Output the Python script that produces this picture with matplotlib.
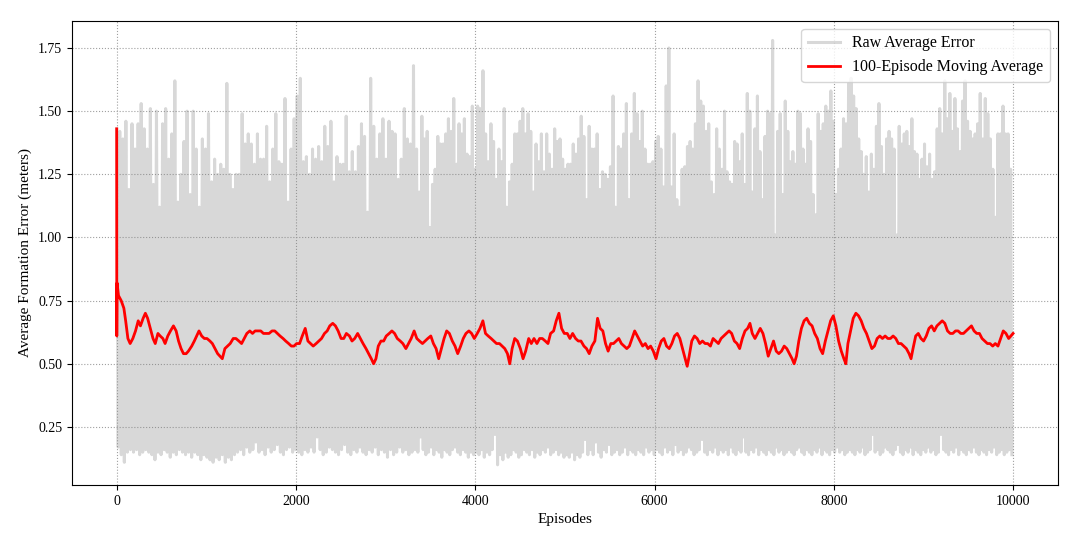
import numpy as np
import matplotlib
matplotlib.use('Agg')
import matplotlib.pyplot as plt

plt.rcParams['font.family'] = ['Liberation Serif', 'DejaVu Serif']

# raw error: spike tops and troughs, in three stretches
seg_bounds = [(0, 3345), (3345, 6752), (6752, 10000)]

raw_highs_1 = [
    1.43, 1.42, 1.39, 1.46, 1.19, 1.45, 1.35, 1.45, 1.53, 1.43,
    1.35, 1.51, 1.21, 1.50, 1.12, 1.45, 1.51, 1.31, 1.41, 1.62,
    1.14, 1.25, 1.38, 1.50, 1.17, 1.50, 1.35, 1.12, 1.39, 1.35,
    1.49, 1.22, 1.31, 1.25, 1.29, 1.27, 1.61, 1.25, 1.19, 1.25,
    1.25, 1.49, 1.37, 1.41, 1.37, 1.29, 1.41, 1.31, 1.31, 1.44,
    1.22, 1.35, 1.49, 1.30, 1.29, 1.55, 1.14, 1.35, 1.47, 1.56,
    1.63, 1.30, 1.32, 1.25, 1.35, 1.31, 1.36, 1.30, 1.44, 1.36,
    1.46, 1.22, 1.32, 1.29, 1.29, 1.48, 1.26, 1.34, 1.26, 1.36,
    1.45, 1.40, 1.10, 1.63, 1.44, 1.31, 1.41, 1.47, 1.31, 1.46,
    1.42, 1.41, 1.23, 1.31, 1.51, 1.39, 1.37, 1.68]
raw_lows_1 = [
    0.17, 0.14, 0.11, 0.15, 0.16, 0.15, 0.16, 0.14, 0.15, 0.16, 0.15, 0.14,
    0.12, 0.15, 0.14, 0.16, 0.15, 0.13, 0.15, 0.14, 0.16, 0.15, 0.14, 0.15,
    0.13, 0.15, 0.14, 0.12, 0.14, 0.13,
    0.12, 0.11, 0.13, 0.12, 0.14, 0.11, 0.13, 0.12, 0.14,
    0.15, 0.16, 0.14, 0.17, 0.15, 0.16, 0.19, 0.15, 0.16, 0.14, 0.17, 0.15,
    0.16, 0.18, 0.15, 0.14, 0.16, 0.17, 0.15, 0.16,
    0.15, 0.14, 0.16, 0.15, 0.17, 0.15, 0.21, 0.16, 0.14, 0.15, 0.17, 0.16,
    0.15, 0.14, 0.16, 0.18, 0.15, 0.14, 0.16, 0.15, 0.17, 0.15, 0.14, 0.16,
    0.15, 0.17, 0.14, 0.16, 0.15, 0.13, 0.16, 0.14, 0.15, 0.17, 0.15, 0.16,
    0.14, 0.15, 0.16]

raw_highs_2 = [
    1.35, 1.18, 1.48, 1.39, 1.42, 1.04, 1.21, 1.27, 1.40, 1.37,
    1.37, 1.41, 1.47, 1.42, 1.55, 1.29, 1.45, 1.41, 1.47, 1.33,
    1.32, 1.52, 1.27, 1.52, 1.51, 1.66, 1.41, 1.30, 1.45, 1.38,
    1.23, 1.35, 1.30, 1.51, 1.12, 1.22, 1.29, 1.41, 1.41, 1.46,
    1.51, 1.41, 1.49, 1.42, 1.18, 1.37, 1.30, 1.41, 1.26, 1.41,
    1.33, 1.27, 1.43, 1.38, 1.39, 1.31, 1.27, 1.29, 1.29, 1.37,
    1.33, 1.39, 1.48, 1.40, 1.15, 1.44, 1.35, 1.35, 1.41, 1.19,
    1.26, 1.25, 1.23, 1.28, 1.56, 1.12, 1.36, 1.35, 1.41, 1.53,
    1.15, 1.41, 1.57, 1.49, 1.38, 1.50, 1.35, 1.29, 1.29, 1.30,
    1.38, 1.40, 1.35, 1.20, 1.60, 1.75, 1.20, 1.41, 1.15, 1.12,
    1.27, 1.28, 1.36, 1.38, 1.35, 1.45, 1.62, 1.54, 1.52, 1.42,
    1.45, 1.22, 1.17, 1.43, 1.35]
raw_lows_2 = [
    0.15, 0.21, 0.16, 0.14, 0.15, 0.17, 0.14, 0.16, 0.15, 0.13, 0.16,
    0.15, 0.14, 0.16, 0.17, 0.15, 0.14, 0.16, 0.15, 0.13, 0.15, 0.14,
    0.15, 0.14, 0.16, 0.13, 0.15, 0.14, 0.16, 0.22, 0.10, 0.14, 0.12,
    0.15, 0.13, 0.14, 0.16, 0.15, 0.13, 0.14, 0.16, 0.15, 0.14, 0.16,
    0.13, 0.15, 0.14, 0.16, 0.15, 0.17, 0.14, 0.15, 0.16, 0.14, 0.15, 0.13,
    0.14, 0.13, 0.15, 0.12, 0.14, 0.13, 0.15, 0.20, 0.14, 0.16, 0.14,
    0.19, 0.15, 0.13, 0.16, 0.15, 0.18, 0.14, 0.15, 0.16, 0.14, 0.15,
    0.17, 0.14, 0.16, 0.15, 0.14, 0.16, 0.15, 0.14, 0.17, 0.15, 0.16, 0.14,
    0.16, 0.15, 0.14, 0.17, 0.15, 0.16, 0.14, 0.18, 0.15, 0.16, 0.14,
    0.15, 0.17, 0.16, 0.14, 0.15, 0.16, 0.20, 0.15, 0.14, 0.16, 0.15,
    0.17, 0.14, 0.16]

raw_highs_3 = [
    1.27, 1.50, 1.26, 1.22, 1.21, 1.38, 1.37, 1.30, 1.41, 1.21,
    1.57, 1.50, 1.18, 1.43, 1.56, 1.34, 1.15, 1.40, 1.50, 1.49,
    1.78, 1.01, 1.42, 1.49, 1.17, 1.54, 1.42, 1.30, 1.34, 1.29,
    1.50, 1.49, 1.35, 1.29, 1.43, 1.38, 1.17, 1.09, 1.49, 1.42,
    1.45, 1.52, 1.50, 1.58, 1.46, 1.17, 1.27, 1.35, 1.47, 1.45,
    1.61, 1.63, 1.56, 1.51, 1.39, 1.34, 1.25, 1.32, 1.18, 1.33,
    1.27, 1.44, 1.53, 1.36, 1.25, 1.39, 1.42, 1.39, 1.35, 1.01,
    1.44, 1.37, 1.41, 1.42, 1.36, 1.47, 1.34, 1.33, 1.23, 1.31,
    1.37, 1.28, 1.33, 1.23, 1.26, 1.43, 1.51, 1.41, 1.62, 1.47,
    1.57, 1.42, 1.55, 1.43, 1.34, 1.54, 1.62, 1.46, 1.42, 1.39,
    1.41, 1.45, 1.57, 1.39, 1.55, 1.49, 1.39, 1.27, 1.08, 1.41,
    1.41, 1.52, 1.41, 1.41, 1.27]
raw_lows_3 = [
    0.15, 0.16, 0.14, 0.17, 0.15, 0.14, 0.16, 0.15, 0.21, 0.15,
    0.14, 0.16, 0.15, 0.17, 0.14, 0.16, 0.15, 0.14, 0.16, 0.15,
    0.14, 0.17, 0.15, 0.16, 0.14, 0.15, 0.16, 0.15, 0.14, 0.16,
    0.17, 0.15, 0.14, 0.16, 0.15, 0.14, 0.16, 0.15, 0.17, 0.14,
    0.16, 0.15, 0.14, 0.16, 0.15,
    0.17, 0.15, 0.16, 0.14, 0.15, 0.16, 0.15, 0.14, 0.16, 0.15,
    0.17, 0.14, 0.15, 0.16, 0.22, 0.15, 0.16, 0.14, 0.15, 0.17,
    0.16, 0.15, 0.14, 0.16, 0.18, 0.15, 0.14, 0.16, 0.15, 0.17,
    0.14, 0.16, 0.15, 0.14, 0.16, 0.15, 0.17, 0.15, 0.16, 0.14,
    0.15, 0.22, 0.16, 0.15, 0.14, 0.16, 0.15, 0.17, 0.14, 0.16,
    0.15, 0.14, 0.16, 0.15, 0.17, 0.15, 0.14, 0.16, 0.15, 0.14,
    0.16, 0.15, 0.17, 0.14, 0.15, 0.16, 0.14, 0.15, 0.16, 0.14]

# 100-episode moving average
ma_episodes = [
    0, 1, 4, 20, 50, 80, 100, 125, 150, 180,
    210, 240, 265, 295, 320, 345, 375, 405, 430, 460,
    485, 515, 540, 570, 600, 633, 663, 690, 718, 745,
    775, 800, 837, 866, 892, 918, 948, 978, 1007, 1040,
    1067, 1096, 1126, 1152, 1178, 1207, 1237, 1266, 1300, 1330,
    1363, 1393, 1422, 1452, 1485, 1515, 1544, 1578, 1607, 1637,
    1670, 1700, 1733, 1763, 1793, 1822, 1856, 1885, 1918, 1948,
    1978, 2007, 2040, 2070, 2103, 2133, 2162, 2192, 2225, 2255,
    2285, 2318, 2348, 2377, 2410, 2440, 2470, 2503, 2533, 2562,
    2596, 2625, 2655, 2688, 2718, 2748, 2781, 2811, 2840, 2866,
    2892, 2918, 2948, 2978, 3007, 3040, 3070, 3100, 3130, 3163,
    3192, 3226, 3255, 3285, 3318, 3348, 3378, 3411, 3441, 3470,
    3504, 3533, 3563, 3592, 3622, 3652, 3681, 3711, 3744, 3774,
    3804, 3837, 3866, 3896, 3929, 3959, 3989, 4022, 4052, 4085,
    4114, 4144, 4177, 4207, 4237, 4270, 4300, 4329, 4359, 4385,
    4411, 4440, 4470, 4503, 4533, 4562, 4596, 4625, 4655, 4688,
    4718, 4748, 4781, 4811, 4840, 4874, 4903, 4933, 4963, 4993,
    5026, 5056, 5086, 5119, 5149, 5179, 5212, 5241, 5271, 5301,
    5334, 5364, 5393, 5423, 5453, 5482, 5512, 5542, 5571, 5601,
    5630, 5660, 5690, 5719, 5749, 5778, 5808, 5838, 5867, 5897,
    5927, 5956, 5986, 6016, 6045, 6075, 6104, 6134, 6164, 6193,
    6223, 6253, 6282, 6312, 6342, 6364, 6386, 6415, 6445, 6475,
    6504, 6534, 6564, 6593, 6623, 6653, 6682, 6712, 6742, 6771,
    6801, 6831, 6860, 6890, 6920, 6949, 6979, 7009, 7038, 7064,
    7090, 7120, 7149, 7179, 7209, 7238, 7268, 7297, 7327, 7357,
    7386, 7416, 7446, 7475, 7505, 7534, 7557, 7583, 7609, 7638,
    7668, 7697, 7727, 7757, 7786, 7816, 7846, 7875, 7905, 7935,
    7964, 7994, 8023, 8053, 8083, 8112, 8134, 8157, 8186, 8216,
    8246, 8275, 8305, 8335, 8364, 8394, 8424, 8453, 8483, 8513,
    8542, 8572, 8602, 8631, 8661, 8691, 8720, 8750, 8780, 8809,
    8839, 8861, 8883, 8913, 8942, 8972, 9001, 9031, 9061, 9090,
    9120, 9150, 9179, 9209, 9238, 9268, 9298, 9327, 9357, 9386,
    9416, 9446, 9475, 9505, 9535, 9564, 9594, 9624, 9653, 9683,
    9713, 9742, 9772, 9801, 9831, 9861, 9890, 9920, 9950, 9999]
ma_values = [
    1.43, 0.61, 0.82, 0.77, 0.75, 0.72, 0.67, 0.60, 0.58, 0.60,
    0.63, 0.67, 0.65, 0.68, 0.70, 0.68, 0.64, 0.60, 0.58, 0.62,
    0.61, 0.60, 0.58, 0.61, 0.63, 0.65, 0.63, 0.59, 0.56, 0.54,
    0.54, 0.55, 0.57, 0.59, 0.61, 0.63, 0.61, 0.60, 0.60, 0.59,
    0.58, 0.56, 0.54, 0.53, 0.52, 0.56, 0.57, 0.58, 0.60, 0.60,
    0.59, 0.58, 0.60, 0.62, 0.63, 0.62, 0.63, 0.63, 0.63, 0.62,
    0.62, 0.62, 0.63, 0.63, 0.62, 0.61, 0.60, 0.59, 0.58, 0.57,
    0.57, 0.58, 0.58, 0.61, 0.64, 0.59, 0.58, 0.57, 0.58, 0.59,
    0.60, 0.62, 0.63, 0.65, 0.66, 0.65, 0.63, 0.60, 0.60, 0.62,
    0.61, 0.59, 0.60, 0.62, 0.60, 0.58, 0.56, 0.54, 0.52, 0.50,
    0.52, 0.57, 0.59, 0.59, 0.61, 0.62, 0.63, 0.62, 0.60, 0.59,
    0.58, 0.56, 0.58, 0.60, 0.63, 0.60, 0.59, 0.58, 0.59, 0.60,
    0.61, 0.58, 0.56, 0.52, 0.56, 0.60, 0.63, 0.62, 0.59, 0.57,
    0.54, 0.57, 0.60, 0.62, 0.63, 0.62, 0.60, 0.62, 0.64, 0.67,
    0.62, 0.61, 0.60, 0.59, 0.58, 0.58, 0.57, 0.56, 0.54, 0.50,
    0.56, 0.60, 0.59, 0.56, 0.52, 0.55, 0.60, 0.58, 0.60, 0.58,
    0.60, 0.60, 0.59, 0.58, 0.62, 0.63, 0.67, 0.70, 0.64, 0.62,
    0.62, 0.60, 0.62, 0.60, 0.59, 0.59, 0.57, 0.56, 0.54, 0.57,
    0.59, 0.68, 0.64, 0.63, 0.58, 0.55, 0.58, 0.58, 0.59, 0.60,
    0.58, 0.57, 0.56, 0.57, 0.60, 0.63, 0.61, 0.59, 0.57, 0.58,
    0.56, 0.57, 0.55, 0.52, 0.56, 0.59, 0.60, 0.57, 0.56, 0.58,
    0.61, 0.62, 0.60, 0.56, 0.52, 0.49, 0.53, 0.59, 0.61, 0.60,
    0.58, 0.59, 0.58, 0.58, 0.57, 0.60, 0.59, 0.58, 0.60, 0.61,
    0.62, 0.63, 0.62, 0.59, 0.58, 0.56, 0.60, 0.63, 0.64, 0.66,
    0.62, 0.60, 0.62, 0.64, 0.62, 0.58, 0.53, 0.56, 0.59, 0.55,
    0.54, 0.55, 0.57, 0.56, 0.54, 0.52, 0.50, 0.53, 0.59, 0.64,
    0.67, 0.68, 0.66, 0.65, 0.62, 0.60, 0.56, 0.54, 0.59, 0.63,
    0.67, 0.69, 0.65, 0.59, 0.55, 0.52, 0.50, 0.58, 0.63, 0.68,
    0.70, 0.69, 0.67, 0.64, 0.62, 0.59, 0.56, 0.57, 0.60, 0.61,
    0.60, 0.61, 0.60, 0.60, 0.61, 0.60, 0.58, 0.58, 0.57, 0.56,
    0.54, 0.52, 0.56, 0.61, 0.62, 0.60, 0.59, 0.61, 0.64, 0.65,
    0.63, 0.65, 0.66, 0.67, 0.66, 0.63, 0.62, 0.62, 0.63, 0.63,
    0.62, 0.62, 0.63, 0.64, 0.65, 0.63, 0.62, 0.62, 0.60, 0.59,
    0.58, 0.58, 0.57, 0.58, 0.57, 0.60, 0.63, 0.62, 0.60, 0.62]

# build the raw trace: top, trough, top, trough ... across each stretch
raw_x, raw_y = [], []
for (start, end), highs, lows in zip(seg_bounds,
                                     [raw_highs_1, raw_highs_2, raw_highs_3],
                                     [raw_lows_1, raw_lows_2, raw_lows_3]):
    n = min(len(highs), len(lows))
    step = (end - start) / n
    for i in range(n):
        raw_x += [start + i * step, start + (i + 0.5) * step]
        raw_y += [highs[i], lows[i]]

fig, ax = plt.subplots(figsize=(10.89, 5.38), dpi=100)
fig.subplots_adjust(left=0.066, right=0.9715, top=0.961, bottom=0.0985)

ax.plot(raw_x, raw_y, color='gray', alpha=0.3, linewidth=2.2, label='Raw Average Error')
ax.plot(ma_episodes, ma_values, color='red', linewidth=2.0, label='100-Episode Moving Average')

ax.set_xlim(-500, 10500)
ax.set_ylim(0.02, 1.857)
ax.set_yticks([0.25, 0.50, 0.75, 1.00, 1.25, 1.50, 1.75])
ax.set_xticks([0, 2000, 4000, 6000, 8000, 10000])
ax.tick_params(labelsize=10)
ax.grid(True, linestyle=':', color='#a0a0a0', linewidth=0.8)

plt.xlabel('Episodes', fontsize=11)
plt.ylabel('Average Formation Error (meters)', fontsize=11)
ax.legend(loc='upper right', fontsize=11.5)

fig.savefig('out.png', dpi=100)
